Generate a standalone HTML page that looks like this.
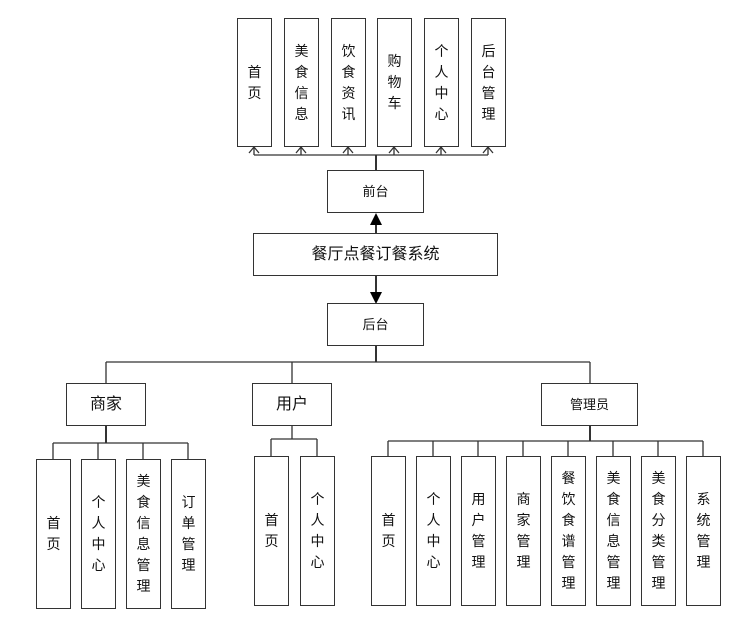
<!DOCTYPE html>
<html><head><meta charset="utf-8"><style>
body{margin:0;background:#fff;width:743px;height:619px;position:relative;overflow:hidden;font-family:"Liberation Sans","Noto Sans CJK SC",sans-serif;color:#111}
.b{position:absolute;box-sizing:border-box;border:1.5px solid #333;background:#fff;display:flex;align-items:center;justify-content:center;text-align:center;font-size:14px;line-height:21px}
svg{position:absolute;left:0;top:0}
</style></head><body>
<svg width="743" height="619">
<defs>
<marker id="o" markerWidth="10" markerHeight="10" refX="5" refY="1" orient="auto-start-reverse" markerUnits="userSpaceOnUse"><path d="M0,8 L5,1 L10,8" fill="none" stroke="#333" stroke-width="1"/></marker>
</defs>
<g stroke="#333" stroke-width="1.3" fill="none">
<line x1="254" y1="155" x2="488" y2="155"/>
<line x1="254" y1="155" x2="254" y2="147"/><line x1="301" y1="155" x2="301" y2="147"/><line x1="348" y1="155" x2="348" y2="147"/><line x1="394" y1="155" x2="394" y2="147"/><line x1="441" y1="155" x2="441" y2="147"/><line x1="488" y1="155" x2="488" y2="147"/>
<path d="M249,153 L254,147 L259,153 M296,153 L301,147 L306,153 M343,153 L348,147 L353,153 M389,153 L394,147 L399,153 M436,153 L441,147 L446,153 M483,153 L488,147 L493,153"/>
<line x1="376" y1="155" x2="376" y2="171" stroke-width="2"/>
<line x1="376" y1="233" x2="376" y2="222" stroke-width="2"/>
<line x1="376" y1="276" x2="376" y2="294" stroke-width="2"/>
<line x1="376" y1="345" x2="376" y2="362" stroke-width="2"/>
<line x1="106" y1="362" x2="590" y2="362"/>
<line x1="106" y1="362" x2="106" y2="383"/><line x1="292" y1="362" x2="292" y2="383"/><line x1="590" y1="362" x2="590" y2="383"/>
<line x1="106" y1="425" x2="106" y2="443" stroke-width="2"/>
<line x1="53" y1="443" x2="188" y2="443"/>
<line x1="53" y1="443" x2="53" y2="459"/><line x1="98" y1="443" x2="98" y2="459"/><line x1="143" y1="443" x2="143" y2="459"/><line x1="188" y1="443" x2="188" y2="459"/>
<line x1="292" y1="425" x2="292" y2="439"/>
<line x1="271" y1="439" x2="317" y2="439"/>
<line x1="271" y1="439" x2="271" y2="456"/><line x1="317" y1="439" x2="317" y2="456"/>
<line x1="590" y1="425" x2="590" y2="441" stroke-width="2"/>
<line x1="388" y1="441" x2="703" y2="441"/>
<line x1="388" y1="441" x2="388" y2="456"/><line x1="433" y1="441" x2="433" y2="456"/><line x1="478" y1="441" x2="478" y2="456"/><line x1="523" y1="441" x2="523" y2="456"/><line x1="568" y1="441" x2="568" y2="456"/><line x1="613" y1="441" x2="613" y2="456"/><line x1="658" y1="441" x2="658" y2="456"/><line x1="703" y1="441" x2="703" y2="456"/>
</g>
<path d="M370,225 L376,213 L382,225 Z" fill="#000"/>
<path d="M370,292 L376,304 L382,292 Z" fill="#000"/>
</svg>

<div class="b" style="left:237px;top:18px;width:35px;height:129px">首<br>页</div>
<div class="b" style="left:284px;top:18px;width:35px;height:129px">美<br>食<br>信<br>息</div>
<div class="b" style="left:331px;top:18px;width:35px;height:129px">饮<br>食<br>资<br>讯</div>
<div class="b" style="left:377px;top:18px;width:35px;height:129px">购<br>物<br>车</div>
<div class="b" style="left:424px;top:18px;width:35px;height:129px">个<br>人<br>中<br>心</div>
<div class="b" style="left:471px;top:18px;width:35px;height:129px">后<br>台<br>管<br>理</div>

<div class="b" style="left:327px;top:170px;width:97px;height:43px;font-size:13px">前台</div>
<div class="b" style="left:253px;top:233px;width:245px;height:43px;font-size:16px">餐厅点餐订餐系统</div>
<div class="b" style="left:327px;top:303px;width:97px;height:43px;font-size:13px">后台</div>

<div class="b" style="left:66px;top:383px;width:80px;height:43px;font-size:16px">商家</div>
<div class="b" style="left:252px;top:383px;width:80px;height:43px;font-size:16px">用户</div>
<div class="b" style="left:541px;top:383px;width:97px;height:43px;font-size:13px">管理员</div>

<div class="b" style="left:36px;top:459px;width:35px;height:150px">首<br>页</div>
<div class="b" style="left:81px;top:459px;width:35px;height:150px">个<br>人<br>中<br>心</div>
<div class="b" style="left:126px;top:459px;width:35px;height:150px">美<br>食<br>信<br>息<br>管<br>理</div>
<div class="b" style="left:171px;top:459px;width:35px;height:150px">订<br>单<br>管<br>理</div>

<div class="b" style="left:254px;top:456px;width:35px;height:150px">首<br>页</div>
<div class="b" style="left:300px;top:456px;width:35px;height:150px">个<br>人<br>中<br>心</div>

<div class="b" style="left:371px;top:456px;width:35px;height:150px">首<br>页</div>
<div class="b" style="left:416px;top:456px;width:35px;height:150px">个<br>人<br>中<br>心</div>
<div class="b" style="left:461px;top:456px;width:35px;height:150px">用<br>户<br>管<br>理</div>
<div class="b" style="left:506px;top:456px;width:35px;height:150px">商<br>家<br>管<br>理</div>
<div class="b" style="left:551px;top:456px;width:35px;height:150px">餐<br>饮<br>食<br>谱<br>管<br>理</div>
<div class="b" style="left:596px;top:456px;width:35px;height:150px">美<br>食<br>信<br>息<br>管<br>理</div>
<div class="b" style="left:641px;top:456px;width:35px;height:150px">美<br>食<br>分<br>类<br>管<br>理</div>
<div class="b" style="left:686px;top:456px;width:35px;height:150px">系<br>统<br>管<br>理</div>
</body></html>
